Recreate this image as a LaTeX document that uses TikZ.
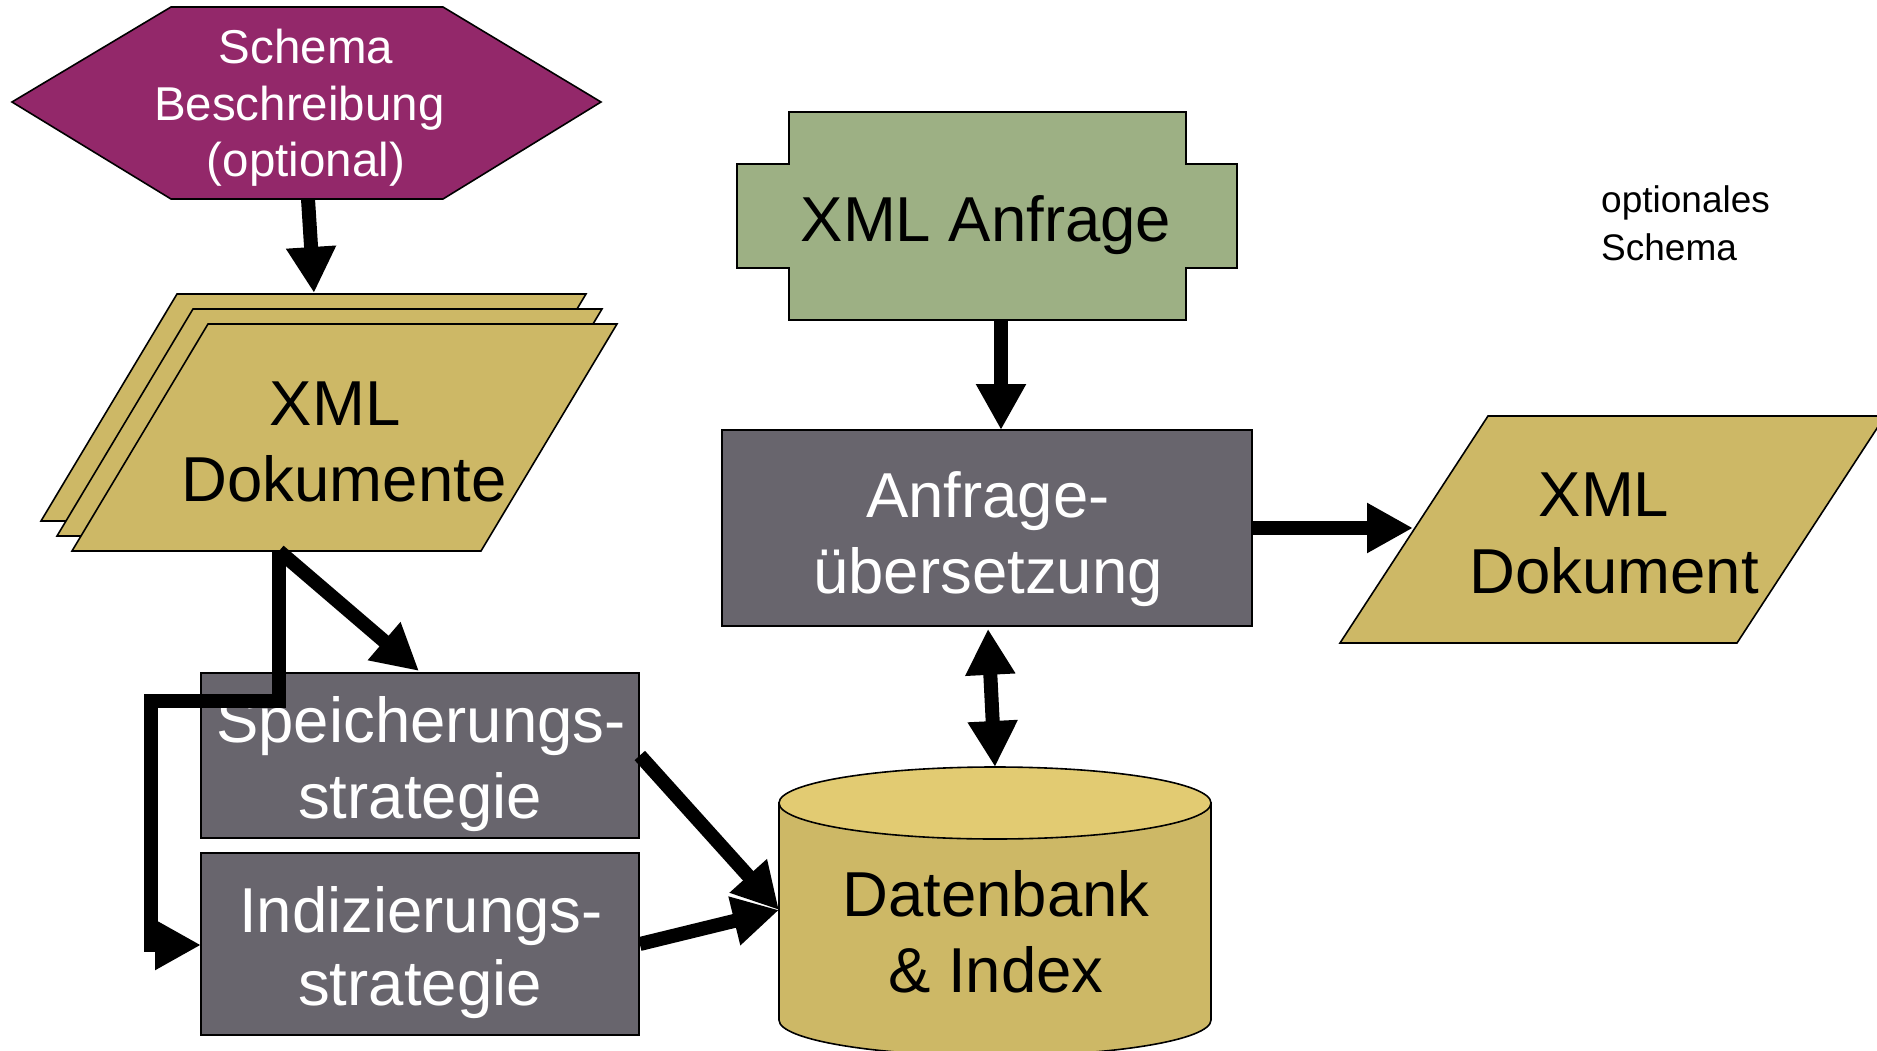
\documentclass[tikz,border=0pt]{standalone}
\usepackage{fontspec}
\setmainfont{Liberation Sans}
\usetikzlibrary{arrows.meta,calc}
\definecolor{schemapurple}{HTML}{93286A}
\definecolor{mustard}{HTML}{CDB866}
\definecolor{mustardlight}{HTML}{E2CB72}
\definecolor{sage}{HTML}{9DB084}
\definecolor{slate}{HTML}{68656D}
\begin{document}
\begin{tikzpicture}[x=1pt,y=-1pt,
  outline/.style={draw=black,line width=1.6pt,line join=miter},
  procbox/.style={outline,fill=slate,rectangle,inner sep=0pt},
  flow/.style={line width=14pt,line join=miter,-{Triangle[width=47pt,length=46pt]}},
  bothflow/.style={line width=14pt,{Triangle[width=47pt,length=46pt]}-{Triangle[width=47pt,length=46pt]}},
  bigtxt/.style={font=\fontsize{63.5}{76}\selectfont,anchor=base,inner sep=0pt},
  hextxt/.style={font=\fontsize{47.5}{57}\selectfont,anchor=base,inner sep=0pt,text=white},
  smalltxt/.style={font=\fontsize{37}{48}\selectfont,anchor=base west,inner sep=0pt},
]
\useasboundingbox (0,0) rectangle (1877,1051);
\fill[white] (0,0) rectangle (1877,1051);

% schema description (hexagon)
\filldraw[outline,fill=schemapurple]
  (12,102) -- (171,7) -- (443,7) -- (601,102) -- (443,199) -- (171,199) -- cycle;
\node[hextxt] (schA) at (306,64) {Schema};
\node[hextxt] (schB) at (306,121) {Beschreibung\hspace*{0.28em}};
\node[hextxt] (schC) at (306,177) {(optional)};
\coordinate (schOut) at (308,199);

% stack of XML documents
\foreach \a/\t in {177/294,193/309,208/324}{
  \filldraw[outline,fill=mustard]
    (\a,\t) -- ({\a+409},\t) -- ({\a+273},{\t+227}) -- ({\a-136},{\t+227}) -- cycle;
}
\node[bigtxt] (docsA) at (344,425) {XML\hspace*{0.28em}};
\node[bigtxt] (docsB) at (344,501) {Dokumente};
\coordinate (docsIn) at (314,293);
\coordinate (docsOut) at (279,551);

% storage and indexing strategies
\node[procbox,minimum width=438pt,minimum height=165pt] (store) at (420,755.5) {};
\node[bigtxt,text=white] (storeA) at (421,742) {Speicherungs-};
\node[bigtxt,text=white] (storeB) at (420,818) {strategie};
\node[procbox,minimum width=438pt,minimum height=182pt] (index) at (420,944) {};
\node[bigtxt,text=white] (indexA) at (421,932) {Indizierungs-};
\node[bigtxt,text=white] (indexB) at (420,1005) {strategie};
\coordinate (storeIn) at (419,671);
\coordinate (indexIn) at (201,945);

% XML query
\filldraw[outline,fill=sage]
  (789,112) -- (1186,112) -- (1186,164) -- (1237,164) -- (1237,268) -- (1186,268)
  -- (1186,320) -- (789,320) -- (789,268) -- (737,268) -- (737,164) -- (789,164) -- cycle;
\node[bigtxt] (queryTxt) at (986,242) {XML Anfrage};
\coordinate (queryOut) at (1001,320);

% query translation
\node[procbox,minimum width=530pt,minimum height=196pt] (trans) at (987,528) {};
\node[bigtxt,text=white] (transA) at (988,517) {Anfrage-};
\node[bigtxt,text=white] (transB) at (988,593) {übersetzung};
\coordinate (transIn) at (1001,430);

% resulting XML document
\filldraw[outline,fill=mustard]
  (1488,416) -- (1885,416) -- (1737,643) -- (1340,643) -- cycle;
\node[bigtxt] (resA) at (1604,516) {XML};
\node[bigtxt] (resB) at (1614,593) {Dokument};
\coordinate (resIn) at (1413,528);

% database and index (cylinder)
\filldraw[outline,fill=mustard]
  (779,803) -- (779,1020) arc[start angle=180,end angle=360,x radius=216pt,y radius=36pt]
  -- (1211,803) -- cycle;
\filldraw[outline,fill=mustardlight] (995,803) ellipse [x radius=216pt,y radius=36pt];
\node[bigtxt] (dbA) at (996,916) {Datenbank};
\node[bigtxt] (dbB) at (996,992) {\& Index};
\coordinate (dbIn) at (779,910);
\coordinate (dbTop) at (995,767);

% side note
\node[smalltxt] (noteA) at (1601,213) {optionales};
\node[smalltxt] (noteB) at (1601,261) {Schema};

% connectors
\draw[flow] (schOut) -- (docsIn);
\draw[flow] (docsOut) -- (storeIn);
\draw[flow] (docsOut) -- (docsOut |- 0,701) -- (151,701) -- (151,945) -- (indexIn);
\draw[flow] (store.east) -- (dbIn);
\draw[flow] (index.east) -- (dbIn);
\draw[flow] (queryOut) -- (transIn);
\draw[flow] (trans.east) -- (resIn);
\draw[bothflow] ($(trans.south)+(1,2)$) -- (dbTop);
\end{tikzpicture}
\end{document}
